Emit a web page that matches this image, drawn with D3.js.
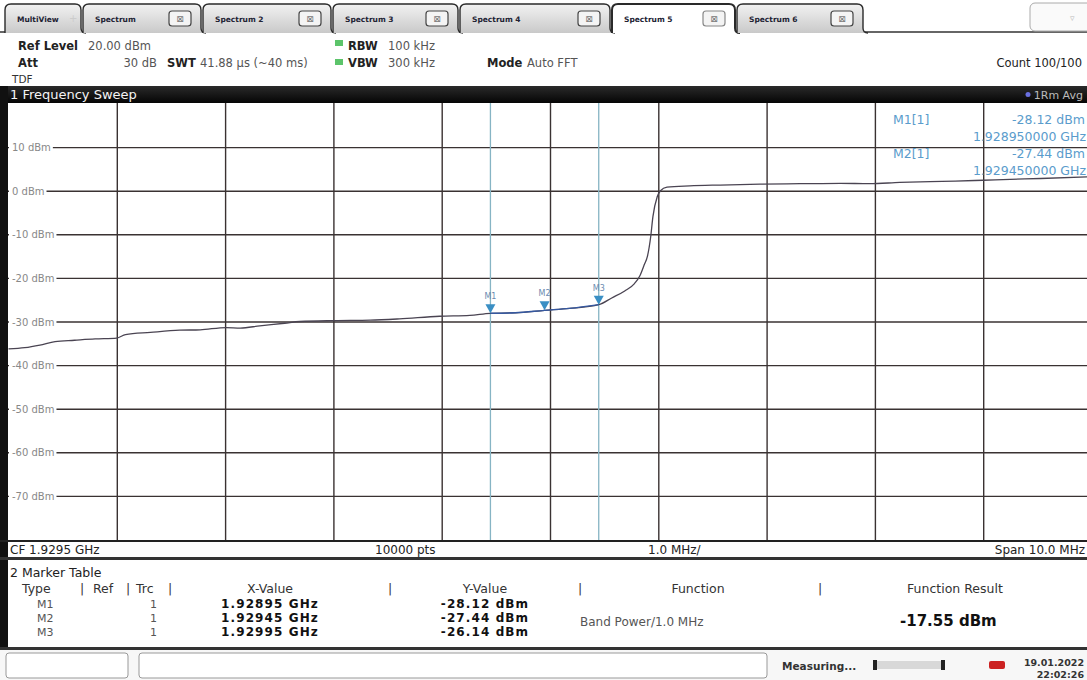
<!DOCTYPE html>
<html><head><meta charset="utf-8">
<script src="https://cdn.jsdelivr.net/npm/d3@7"></script>
<style>body{margin:0;background:#fff;overflow:hidden}svg{display:block}text{font-family:"DejaVu Sans",Verdana,sans-serif}</style>
</head><body><svg id="c" width="1087" height="680"></svg>
<script>
// ---- data ----
const tabNames = ["MultiView","Spectrum","Spectrum 2","Spectrum 3","Spectrum 4","Spectrum 5","Spectrum 6"];
const activeTab = "Spectrum 5";
const yTicks = [10,0,-10,-20,-30,-40,-50,-60,-70];
const freqMHz = [1924.5,1924.65,1924.79,1924.93,1925.11,1925.3,1925.5,1925.58,1925.81,1926.08,1926.27,1926.51,1926.64,1926.82,1927.05,1927.19,1927.51,1927.84,1928.11,1928.48,1928.76,1928.95,1929.18,1929.45,1929.68,1929.95,1930.07,1930.19,1930.28,1930.33,1930.37,1930.4,1930.43,1930.45,1930.49,1930.52,1930.58,1930.79,1931.07,1931.44,1931.81,1932.18,1932.45,1932.73,1933.01,1933.24,1933.5,1933.75,1934.03,1934.5];
const levelDbm = [-36.3,-36.0,-35.4,-34.6,-34.3,-34.0,-33.8,-33.0,-32.5,-32.0,-31.9,-31.4,-31.5,-31.0,-30.4,-30.0,-29.8,-29.7,-29.4,-28.8,-28.6,-28.12,-28.0,-27.44,-27.0,-26.14,-24.6,-23.0,-21.3,-19.5,-17,-15,-10.5,-6,-1.4,0,0.8,1.1,1.3,1.5,1.6,1.7,1.6,1.9,2.1,2.2,2.4,2.6,2.8,3.2];
const markerNames = ["M1","M2","M3"];
const markerFreqMHz = [1928.95,1929.45,1929.95];
const markerDbm = [-28.12,-27.44,-26.14];
const markerXText = ["1.92895 GHz","1.92945 GHz","1.92995 GHz"];
const markerYText = ["-28.12 dBm","-27.44 dBm","-26.14 dBm"];

const svg = d3.select("#c");
const defs = svg.append("defs");
const g1 = defs.append("linearGradient").attr("id","tabg").attr("x1",0).attr("y1",0).attr("x2",0).attr("y2",1);
g1.append("stop").attr("offset","0").attr("stop-color","#f2f2f2");
g1.append("stop").attr("offset","1").attr("stop-color","#c9c9c9");
const g2 = defs.append("linearGradient").attr("id","barg").attr("x1",0).attr("y1",0).attr("x2",0).attr("y2",1);
g2.append("stop").attr("offset","0").attr("stop-color","#2a2a2a");
g2.append("stop").attr("offset","1").attr("stop-color","#050505");

// ---- tabs ----
const tabX = [5,83,203,333,460,612,737,865];
svg.append("line").attr("x1",0).attr("x2",1087).attr("y1",32).attr("y2",32).attr("stroke","#333").attr("stroke-width",1.5);
tabNames.forEach((n,i)=>{
  const x0=tabX[i], x1=tabX[i+1], act = n===activeTab;
  const gt = svg.append("g");
  gt.append("path").attr("d",`M${x0},33 L${x0},10 Q${x0},4 ${x0+6},4 L${x1-8},4 Q${x1-2},4 ${x1-2},10 L${x1-2},28 Q${x1-2},33 ${x1+3},33`)
    .attr("fill",act?"#fff":"url(#tabg)").attr("stroke","#2a2a2a").attr("stroke-width",act?2:1.4);
  gt.append("text").attr("x",x0+12).attr("y",22).attr("font-size",7.5).attr("font-weight","bold").attr("fill","#223").text(n);
  if(i>0){
    const bx=x1-34;
    gt.append("rect").attr("x",bx).attr("y",11).attr("width",22).attr("height",15).attr("rx",3)
      .attr("fill","#f4f4f4").attr("stroke",act?"#888":"#444").attr("stroke-width",1.2);
    gt.append("text").attr("x",bx+11).attr("y",22).attr("text-anchor","middle").attr("font-size",9).attr("fill","#777").text("⊠");
  } else {
    gt.append("text").attr("x",x1-14).attr("y",22).attr("font-size",10).attr("fill","#ccc").text("+");
  }
});
svg.append("rect").attr("x",1030).attr("y",3).attr("width",62).attr("height",28).attr("rx",5).attr("fill","#fafafa").attr("stroke","#aaa");
svg.append("text").attr("x",1070).attr("y",21).attr("font-size",9).attr("fill","#bbb").text("▿");

// ---- info area ----
const info = svg.append("g").attr("font-size",11.5);
function t(x,y,s,opt={}){const e=info.append("text").attr("x",x).attr("y",y).text(s).attr("fill",opt.c||"#555");
  if(opt.b)e.attr("font-weight","bold"); if(opt.a)e.attr("text-anchor",opt.a); if(opt.s)e.attr("font-size",opt.s); return e;}
t(18,50,"Ref Level",{c:"#222",b:1}); t(88,50,"20.00 dBm");
t(18,67,"Att",{c:"#222",b:1}); t(157,67,"30 dB",{a:"end"});
t(167,67,"SWT",{c:"#222",b:1}); t(200,67,"41.88 µs (~40 ms)");
info.append("rect").attr("x",335).attr("y",40).attr("width",8).attr("height",6).attr("fill","#5cc46a");
info.append("rect").attr("x",335).attr("y",59).attr("width",8).attr("height",6).attr("fill","#5cc46a");
t(348,50,"RBW",{c:"#222",b:1}); t(388,50,"100 kHz");
t(348,67,"VBW",{c:"#222",b:1}); t(388,67,"300 kHz");
t(487,67,"Mode",{c:"#222",b:1}); t(527,67,"Auto FFT");
t(12,83,"TDF",{c:"#333",s:10.5});
t(1082,67,"Count 100/100",{c:"#222",a:"end"});

// ---- frame bar ----
svg.append("rect").attr("x",0).attr("y",86).attr("width",1087).attr("height",17).attr("fill","url(#barg)");
svg.append("text").attr("x",10).attr("y",99).attr("font-size",13).attr("fill","#f4f4f4").text("1 Frequency Sweep");
svg.append("circle").attr("cx",1028).attr("cy",94.5).attr("r",2.5).attr("fill","#6a70e0");
svg.append("text").attr("x",1083).attr("y",99).attr("text-anchor","end").attr("font-size",11).attr("fill","#bbb").text("1Rm Avg");
svg.append("rect").attr("x",0).attr("y",86).attr("width",8).attr("height",564).attr("fill","#111");

// ---- plot ----
const x = d3.scaleLinear().domain([1924.5,1934.5]).range([8.5,1091.5]);
const y = d3.scaleLinear().domain([-80,20]).range([539.5,103.5]);
defs.append("clipPath").attr("id","pc").append("rect").attr("x",8).attr("y",103).attr("width",1079).attr("height",437);
const plot = svg.append("g").attr("clip-path","url(#pc)");
plot.append("rect").attr("x",8).attr("y",103).attr("width",1079).attr("height",437).attr("fill","#fff");
const xt = d3.range(1,10).map(i=>1924.5+i);
plot.append("g").call(d3.axisBottom(x).tickValues(xt).tickSize(437).tickFormat(""))
  .attr("transform","translate(0,103)").call(g=>{g.select(".domain").remove();g.selectAll("line").attr("stroke","#3a3232").attr("stroke-width",1.4);});
plot.append("g").call(d3.axisRight(y).tickValues(yTicks).tickSize(1079).tickFormat(""))
  .attr("transform","translate(8,0)").call(g=>{g.select(".domain").remove();g.selectAll("line").attr("stroke","#3a3232").attr("stroke-width",1.4);});
// band power limit lines
plot.selectAll(".bl").data([markerFreqMHz[0],markerFreqMHz[2]]).join("line")
  .attr("x1",d=>x(d)).attr("x2",d=>x(d)).attr("y1",103).attr("y2",540).attr("stroke","#86b4c4").attr("stroke-width",1.3);
// y labels
const lab = plot.append("g");
yTicks.forEach(v=>{
  const gg = lab.append("g");
  const bg = gg.append("rect").attr("x",9).attr("y",y(v)-6).attr("height",12).attr("fill","#fff");
  const tx = gg.append("text").attr("x",12).attr("y",y(v)+4).attr("font-size",10).attr("fill","#888").text(v+" dBm");
  bg.attr("width",tx.node().getComputedTextLength()+5);
});
// trace
const pts = freqMHz.map((f,i)=>[f,levelDbm[i]]);
const line = d3.line().x(d=>x(d[0])).y(d=>y(d[1])).curve(d3.curveMonotoneX);
plot.append("path").attr("d",line(pts)).attr("fill","none").attr("stroke","#4a4452").attr("stroke-width",1.3);
plot.append("path").attr("d",line(pts.filter(d=>d[0]>=markerFreqMHz[0]&&d[0]<=markerFreqMHz[2])))
  .attr("fill","none").attr("stroke","#3558a0").attr("stroke-width",1.4);
// markers
markerNames.forEach((m,i)=>{
  const mx=x(markerFreqMHz[i]), my=y(markerDbm[i]);
  plot.append("path").attr("d",`M${mx-5},${my-9} L${mx+5},${my-9} L${mx},${my} Z`).attr("fill","#3a8fc4");
  plot.append("text").attr("x",mx).attr("y",my-14).attr("text-anchor","middle").attr("font-size",8).attr("fill","#6a8ab0").text(m);
});
// marker info
const mi = svg.append("g").attr("font-size",12.5).attr("fill","#5a9ccc");
[[0,124,141],[1,158,175]].forEach(([i,y1,y2])=>{
  mi.append("text").attr("x",893).attr("y",y1).text(markerNames[i]+"[1]");
  mi.append("text").attr("x",1085).attr("y",y1).attr("text-anchor","end").text(markerDbm[i].toFixed(2)+" dBm");
  mi.append("text").attr("x",1086).attr("y",y2).attr("text-anchor","end").attr("font-size",12.5).text((markerFreqMHz[i]/1000).toFixed(9)+" GHz");
});

// ---- bottom axis bar ----
svg.append("line").attr("x1",0).attr("x2",1087).attr("y1",541).attr("y2",541).attr("stroke","#222").attr("stroke-width",2);
const ab = svg.append("g").attr("font-size",12).attr("fill","#222");
ab.append("text").attr("x",10).attr("y",554).text("CF 1.9295 GHz");
ab.append("text").attr("x",375).attr("y",554).text("10000 pts");
ab.append("text").attr("x",648).attr("y",554).text("1.0 MHz/");
ab.append("text").attr("x",1085).attr("y",554).attr("text-anchor","end").text("Span 10.0 MHz");
svg.append("rect").attr("x",0).attr("y",557).attr("width",1087).attr("height",3).attr("fill","#333");

// ---- marker table ----
const mt = svg.append("g").attr("fill","#222");
mt.append("text").attr("x",10).attr("y",577).attr("font-size",12.5).text("2 Marker Table");
const hdr = mt.append("g").attr("font-size",12.5).attr("fill","#333");
[["Type",22,"start"],["|",80,"start"],["Ref",93,"start"],["|",126,"start"],["Trc",136,"start"],["|",168,"start"],
 ["X-Value",270,"middle"],["|",390,"middle"],["Y-Value",485,"middle"],["|",580,"middle"],["Function",698,"middle"],["|",820,"middle"],["Function Result",955,"middle"]]
 .forEach(([s,xx,a])=>hdr.append("text").attr("x",xx).attr("y",593).attr("text-anchor",a).text(s));
markerNames.forEach((m,i)=>{
  const yy=607.5+i*14;
  mt.append("text").attr("x",37).attr("y",yy).attr("font-size",11).attr("fill","#555").text(m);
  mt.append("text").attr("x",150).attr("y",yy).attr("font-size",11).attr("fill","#555").text("1");
  mt.append("text").attr("x",270).attr("y",yy).attr("text-anchor","middle").attr("font-size",12).attr("letter-spacing",1.1).attr("font-weight","bold").attr("fill","#111").text(markerXText[i]);
  mt.append("text").attr("x",485).attr("y",yy).attr("text-anchor","middle").attr("font-size",12).attr("letter-spacing",1.1).attr("font-weight","bold").attr("fill","#111").text(markerYText[i]);
});
mt.append("text").attr("x",580).attr("y",626).attr("font-size",12).attr("fill","#555").text("Band Power/1.0 MHz");
mt.append("text").attr("x",900).attr("y",626).attr("font-size",15).attr("font-weight","bold").attr("fill","#111").text("-17.55 dBm");
svg.append("rect").attr("x",0).attr("y",647).attr("width",1087).attr("height",3).attr("fill","#333");

// ---- status bar ----
svg.append("rect").attr("x",0).attr("y",650).attr("width",1087).attr("height",30).attr("fill","#f7f7f7");
svg.append("rect").attr("x",6).attr("y",653).attr("width",122).attr("height",25).attr("rx",3).attr("fill","#fff").attr("stroke","#999");
svg.append("rect").attr("x",139).attr("y",653).attr("width",628).attr("height",25).attr("rx",3).attr("fill","#fff").attr("stroke","#999");
svg.append("text").attr("x",782).attr("y",670).attr("font-size",10.5).attr("font-weight","bold").attr("fill","#333").text("Measuring...");
svg.append("rect").attr("x",876).attr("y",661).attr("width",66).attr("height",8).attr("fill","#d8d8d8");
svg.append("rect").attr("x",873).attr("y",660).attr("width",4).attr("height",10).attr("fill","#222");
svg.append("rect").attr("x",941).attr("y",660).attr("width",4).attr("height",10).attr("fill","#222");
svg.append("rect").attr("x",989).attr("y",661).attr("width",16).attr("height",8).attr("rx",2).attr("fill","#c22");
svg.append("text").attr("x",1084).attr("y",666).attr("text-anchor","end").attr("font-size",9.5).attr("font-weight","bold").attr("fill","#333").text("19.01.2022");
svg.append("text").attr("x",1084).attr("y",678).attr("text-anchor","end").attr("font-size",9.5).attr("font-weight","bold").attr("fill","#333").text("22:02:26");
</script></body></html>
